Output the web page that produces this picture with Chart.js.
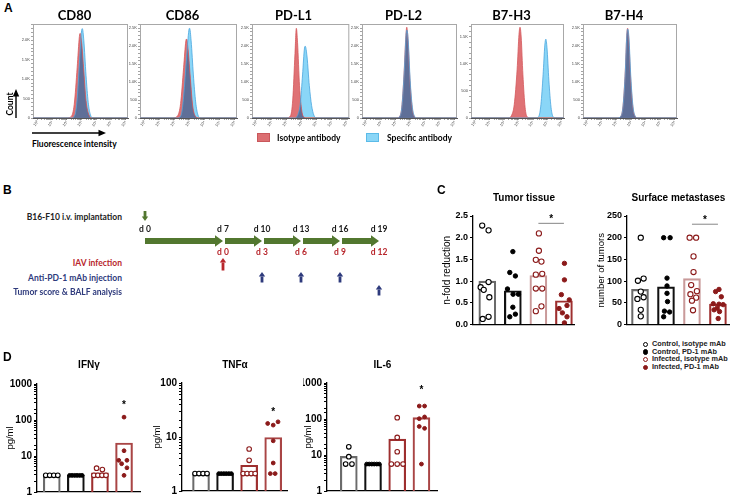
<!DOCTYPE html>
<html>
<head>
<meta charset="utf-8">
<script src="https://cdn.jsdelivr.net/npm/chart.js@4.4.0/dist/chart.umd.min.js"></script>
<style>
  html, body { margin: 0; padding: 0; background: #fff; overflow: hidden; }
  #fig { position: relative; width: 738px; height: 497px; background: #fff; }
  #fig canvas { position: absolute; }
  .lbl { position: absolute; white-space: nowrap; line-height: 1; }
  .sw { position: absolute; width: 11px; height: 7px; }
  .dot { position: absolute; width: 3.6px; height: 3.6px; border-radius: 50%; border: 1.1px solid; }
</style>
</head>
<body>
<div id="fig">
  <svg style="position:absolute;left:0;top:0" width="738" height="497">
    <line x1="16" y1="118" x2="16" y2="95" stroke="#000" stroke-width="1.4"/>
    <polygon points="16,89 12.8,96.5 19.2,96.5" fill="#000"/>
    <line x1="32" y1="133" x2="99" y2="133" stroke="#000" stroke-width="1.4"/>
    <polygon points="106,133 98.5,129.8 98.5,136.2" fill="#000"/>
  </svg>
  <div class="sw" style="left:257px;top:133px;background:#dc6f72;border:1px solid #c9575b"></div>
  <div class="sw" style="left:366px;top:133px;background:#8ad6f7;border:1px solid #5bbbe8"></div>
  <div class="dot" style="left:642.5px;top:341.5px;border-color:#000;background:#fff"></div>
  <div class="dot" style="left:642.5px;top:349.2px;border-color:#000;background:#000"></div>
  <div class="dot" style="left:642.5px;top:356.8px;border-color:#8b1a1a;background:#fff"></div>
  <div class="dot" style="left:642.5px;top:364.5px;border-color:#8b1a1a;background:#8b1a1a"></div>
</div>
<script>
// Panel A - flow cytometry histograms, x in log10 units, y = count
const flowMarkers = ['CD80', 'CD86', 'PD-L1', 'PD-L2', 'B7-H3', 'B7-H4'];
const flowYMax = [2420, 2620, 2620, 2620, 1740, 2620];
const flowDecades = [0, 1, 2, 3, 4, 5, 6];

const cd80Isotype = [[-0.3,0],[2.0,0],[2.3,40],[2.5,350],[2.7,1300],[2.85,2100],[2.9,2180],[3.0,1950],[3.15,1200],[3.3,450],[3.5,80],[3.7,0],[6.15,0]];
const cd80Specific = [[-0.3,0],[2.3,0],[2.55,80],[2.7,500],[2.85,1400],[3.0,2250],[3.05,2300],[3.15,2000],[3.3,1100],[3.45,400],[3.6,80],[3.8,0],[6.15,0]];
const cd86Isotype = [[-0.3,0],[1.9,0],[2.2,60],[2.4,400],[2.6,1400],[2.75,2150],[2.8,2200],[2.9,1900],[3.05,1100],[3.2,350],[3.4,40],[3.6,0],[6.15,0]];
const cd86Specific = [[-0.3,0],[2.2,0],[2.45,100],[2.6,600],[2.8,1700],[2.95,2450],[3.0,2500],[3.1,2150],[3.25,1200],[3.4,450],[3.55,90],[3.75,0],[6.15,0]];
const pdl1Isotype = [[-0.3,0],[2.0,0],[2.25,60],[2.4,500],[2.55,1800],[2.64,2500],[2.72,2100],[2.85,900],[3.0,200],[3.15,20],[3.3,0],[6.15,0]];
const pdl1Specific = [[-0.3,0],[2.5,0],[2.75,100],[2.9,400],[3.05,1200],[3.18,1950],[3.23,2000],[3.35,1700],[3.5,900],[3.65,350],[3.8,80],[4.0,0],[6.15,0]];
const pdl2Isotype = [[-0.3,0],[2.0,0],[2.25,40],[2.4,300],[2.55,1200],[2.68,2300],[2.74,2530],[2.82,2200],[2.95,1100],[3.1,300],[3.25,40],[3.4,0],[6.15,0]];
const pdl2Specific = [[-0.3,0],[2.05,0],[2.28,50],[2.42,350],[2.57,1300],[2.7,2350],[2.75,2450],[2.84,2150],[2.97,1050],[3.12,300],[3.28,40],[3.45,0],[6.15,0]];
const b7h3Isotype = [[-0.3,0],[2.3,0],[2.5,40],[2.7,250],[2.9,900],[3.03,1550],[3.1,1680],[3.18,1500],[3.3,800],[3.45,200],[3.6,20],[3.8,0],[6.15,0]];
const b7h3Specific = [[-0.3,0],[4.2,0],[4.4,30],[4.55,250],[4.7,800],[4.82,1350],[4.89,1460],[4.97,1300],[5.1,700],[5.25,200],[5.4,20],[5.6,0],[6.15,0]];
const b7h4Isotype = [[-0.3,0],[2.05,0],[2.3,50],[2.45,350],[2.6,1300],[2.7,2300],[2.76,2500],[2.84,2200],[2.97,1100],[3.12,300],[3.28,40],[3.45,0],[6.15,0]];
const b7h4Specific = [[-0.3,0],[2.05,0],[2.3,50],[2.45,330],[2.6,1250],[2.7,2250],[2.77,2480],[2.85,2250],[2.98,1150],[3.13,320],[3.3,40],[3.45,0],[6.15,0]];

// Panel B - timeline
const timelineDays = ['d 0', '', 'd 7', 'd 10', 'd 13', 'd 16', 'd 19'];
const infectionDays = ['', '', 'd 0', 'd 3', 'd 6', 'd 9', 'd 12'];
const stages = [['d 0', 'd 7'], ['d 7', 'd 10'], ['d 10', 'd 13'], ['d 13', 'd 16'], ['d 16', 'd 19']];
const implantDay = 'd 0';
const infectionDay = 'd 7';
const mabDays = ['d 10', 'd 13', 'd 16'];
const analysisDay = 'd 19';

// Panel C and D - groups
const groupNames = ['Control, isotype mAb', 'Control, PD-1 mAb', 'Infected, isotype mAb', 'Infected, PD-1 mAb'];

const tumorMeans = [1.0, 0.78, 1.13, 0.55];
const tumorValues = [
  [2.28, 2.17, 0.98, 0.86, 0.80, 0.63, 0.13, 0.18],
  [1.68, 1.20, 1.12, 0.82, 0.70, 0.70, 0.40, 0.18, 0.24],
  [2.10, 1.70, 1.49, 1.45, 1.15, 1.17, 0.83, 0.83, 0.42, 0.31],
  [1.41, 1.03, 0.69, 0.57, 0.37, 0.44, 0.27, 0.18, 0.04]
];
const tumorJitter = [
  [-0.2, 0.05, 0.05, -0.26, -0.14, 0.08, -0.18, 0.05],
  [0, -0.12, 0.1, -0.21, 0.01, 0.22, 0, -0.12, 0.1],
  [0.02, 0.02, -0.1, 0.12, -0.1, 0.15, -0.1, 0.15, 0.12, -0.1],
  [0.02, 0.02, -0.1, 0.21, -0.19, 0.12, -0.06, 0.12, 0.02]
];

const surfaceMeans = [81, 87, 106, 47];
const surfaceValues = [
  [200, 101, 106, 76, 59, 63, 34, 19],
  [200, 200, 107, 89, 72, 53, 31, 29, 18],
  [200, 200, 157, 121, 91, 77, 70, 62, 55, 33],
  [81, 76, 64, 48, 47, 46, 38, 34, 30, 14]
];
const surfaceJitter = [
  [0.03, -0.08, 0.14, 0.03, -0.1, 0.14, 0.03, 0.03],
  [-0.09, 0.16, 0.04, 0.04, 0.04, 0.06, -0.06, 0.14, -0.09],
  [-0.09, 0.16, 0.06, 0.06, -0.03, 0.19, -0.06, 0.16, 0, 0.04],
  [0.04, -0.09, 0.13, -0.18, 0.04, 0.2, -0.03, -0.15, 0.06, 0.01]
];

const ifnMeans = [2.9, 2.9, 3.4, 23];
const ifnValues = [
  [2.9, 2.9, 2.9, 2.9],
  [2.9, 2.9, 2.9, 2.9, 2.9, 2.9],
  [4.6, 4.2, 2.9, 2.9, 2.9, 2.9],
  [120, 14, 7.6, 7.6, 6.1, 4.7, 2.9]
];
const ifnJitter = [
  [-0.25, -0.085, 0.085, 0.25],
  [-0.26, -0.156, -0.052, 0.052, 0.156, 0.26],
  [-0.14, 0.1, -0.25, -0.085, 0.085, 0.25],
  [0, 0, -0.22, 0.12, -0.1, 0.12, 0]
];

const tnfMeans = [2.1, 2.1, 3.0, 9.8];
const tnfValues = [
  [2.1, 2.1, 2.1, 2.1],
  [2.1, 2.1, 2.1, 2.1, 2.1, 2.1],
  [6.0, 3.7, 2.1, 2.1, 2.1, 2.1],
  [17.8, 16.6, 19.1, 8.5, 3.3, 2.1, 2.1]
];
const tnfJitter = [
  [-0.25, -0.085, 0.085, 0.25],
  [-0.26, -0.156, -0.052, 0.052, 0.156, 0.26],
  [0, 0, -0.25, -0.085, 0.085, 0.25],
  [-0.23, 0, 0.2, 0, 0, -0.12, 0.08]
];

const il6Means = [9.2, 5.6, 27.5, 109];
const il6Values = [
  [16.9, 9.0, 5.6, 5.6],
  [5.6, 5.6, 5.6, 5.6, 5.6, 5.6],
  [109, 30.7, 12.3, 5.6, 5.6, 5.6],
  [229, 229, 102, 114, 62, 55, 5.6]
];
const il6Jitter = [
  [0, 0, -0.13, 0.13],
  [-0.26, -0.156, -0.052, 0.052, 0.156, 0.26],
  [0, 0, 0, -0.24, 0, 0.24],
  [-0.09, 0.13, -0.09, 0.13, -0.09, 0.13, 0]
];

// significance marks: [from group, to group, line level, star level]
const tumorSig = [3, 4, 2.33, 2.47];
const surfaceSig = [3, 4, 231, 246];
const ifnStar = [4, 4, null, 295];
const tnfStar = [4, 4, null, 31];
const il6Star = [4, 4, null, 745];

const groupColors = ['#000', '#000', '#8b1a1a', '#8b1a1a'];
const groupFilled = [false, true, false, true];

Chart.defaults.animation = false;
Chart.defaults.font.family = "'Liberation Sans', Arial, sans-serif";
Chart.defaults.color = '#000';
Chart.defaults.plugins.legend.display = false;
Chart.defaults.plugins.tooltip.enabled = false;

const fig = document.getElementById('fig');
const SANS = "'Liberation Sans', Arial, sans-serif";

function makeCanvas(left, top, width, height) {
  const c = document.createElement('canvas');
  c.width = width; c.height = height;
  c.style.left = left + 'px'; c.style.top = top + 'px';
  c.style.width = width + 'px'; c.style.height = height + 'px';
  fig.appendChild(c);
  return c.getContext('2d');
}

function addLabel(text, x, y, font, color, anchor, rotate) {
  const d = document.createElement('div');
  d.className = 'lbl';
  d.textContent = text;
  d.style.font = font;
  d.style.lineHeight = '1';
  d.style.color = color || '#000';
  d.style.left = x + 'px';
  d.style.top = y + 'px';
  const tx = anchor === 'end' ? '-100%' : anchor === 'middle' ? '-50%' : '0';
  d.style.transform = 'translate(' + tx + ', -50%)' + (rotate ? ' rotate(' + rotate + 'deg)' : '');
  fig.appendChild(d);
}

// frame + histogram fills: red, overlap painted inside red, blue behind
const RED_FILL = '#df7275', OVERLAP_FILL = '#5f6f98', BLUE_FILL = '#8ad6f7';
const flowFill = {
  id: 'flowFill',
  beforeDatasetsDraw(chart) {
    const a = chart.chartArea, c = chart.ctx;
    const y0 = chart.scales.y.getPixelForValue(0);
    const shape = i => {
      const meta = chart.getDatasetMeta(i), pts = meta.data;
      c.beginPath();
      meta.dataset.path(c);
      c.lineTo(pts[pts.length - 1].x, y0);
      c.lineTo(pts[0].x, y0);
      c.closePath();
    };
    c.save();
    c.strokeStyle = '#a8a8a8';
    c.lineWidth = 1;
    c.strokeRect(a.left + 0.5, a.top + 0.5, a.right - a.left - 1, a.bottom - a.top - 1);
    c.beginPath();
    c.rect(a.left, a.top, a.right - a.left, a.bottom - a.top);
    c.clip();
    shape(1);
    c.fillStyle = RED_FILL;
    c.fill();
    c.save();
    c.clip();
    shape(0);
    c.fillStyle = OVERLAP_FILL;
    c.fill();
    c.restore();
    shape(0);
    c.globalCompositeOperation = 'destination-over';
    c.fillStyle = BLUE_FILL;
    c.fill();
    c.restore();
  }
};

const sup = ['\u2070', '\u00b9', '\u00b2', '\u00b3', '\u2074', '\u2075', '\u2076'];
const flowXTicks = [];
flowDecades.forEach(n => {
  flowXTicks.push(n);
  if (n < 6) for (let k = 2; k <= 9; k++) flowXTicks.push(n + Math.log10(k));
});

function flowChart(i, iso, spec, box) {
  const d = box.x0 + box.x1 - 2 * box.tc;
  let yw = 12, rm = yw - d;
  if (rm < 1) { rm = 1; yw = d + 1; }
  const left = box.x0 - yw, top = 8;
  const ctx = makeCanvas(left, top, box.x1 + rm - left, 130 - top);
  const toXY = pts => pts.map(p => ({ x: p[0], y: p[1] }));
  const yMax = flowYMax[i];
  const yTicks = [];
  for (let v = 0; v <= yMax; v += 100) yTicks.push(v);
  new Chart(ctx, {
    type: 'line',
    data: {
      datasets: [
        { data: toXY(spec), borderColor: '#4aa6de', fill: false,
          borderWidth: 0.8, pointRadius: 0, cubicInterpolationMode: 'monotone' },
        { data: toXY(iso), borderColor: '#d4585c', fill: false,
          borderWidth: 0.8, pointRadius: 0, cubicInterpolationMode: 'monotone' }
      ]
    },
    options: {
      responsive: false,
      layout: { padding: { left: 0, right: rm, top: 0, bottom: 0 } },
      plugins: {
        title: { display: true, text: flowMarkers[i], color: '#000',
          font: { family: 'Lato', size: 13, weight: 'bold' }, padding: { top: 0, bottom: 0.4 } }
      },
      scales: {
        x: {
          type: 'linear', min: -0.3, max: 6.15, offset: false,
          afterBuildTicks: s => { s.ticks = flowXTicks.map(v => ({ value: v })); },
          ticks: { autoSkip: false, minRotation: 55, maxRotation: 55, padding: 0, color: '#444',
            font: { size: 4 }, callback: v => Number.isInteger(v) ? '10' + sup[v] : '' },
          grid: { drawOnChartArea: false, tickLength: 2, color: '#666', tickWidth: 0.6 },
          border: { color: '#555', width: 1 },
          afterFit: s => { s.height = 12; }
        },
        y: {
          min: 0, max: yMax,
          afterBuildTicks: s => { s.ticks = yTicks.map(v => ({ value: v })); },
          ticks: { autoSkip: false, padding: 1, color: '#444', font: { size: 4 },
            callback: v => v % 500 ? '' : v === 0 ? '0' : v < 1000 ? '500' : (v / 1000).toFixed(1) + 'K' },
          grid: { drawOnChartArea: false, tickLength: 2, color: '#666', tickWidth: 0.6 },
          border: { color: '#555', width: 1 },
          afterFit: s => { s.width = yw; }
        }
      }
    },
    plugins: [flowFill]
  });
}

flowChart(0, cd80Isotype, cd80Specific, { x0: 33, x1: 128, tc: 80.5 });
flowChart(1, cd86Isotype, cd86Specific, { x0: 140, x1: 237, tc: 188 });
flowChart(2, pdl1Isotype, pdl1Specific, { x0: 252, x1: 350, tc: 294 });
flowChart(3, pdl2Isotype, pdl2Specific, { x0: 362, x1: 457, tc: 408 });
flowChart(4, b7h3Isotype, b7h3Specific, { x0: 471, x1: 564, tc: 517 });
flowChart(5, b7h4Isotype, b7h4Specific, { x0: 583, x1: 677, tc: 626 });

// Panel B timeline
const GREEN = '#52772f', RED = '#b8262c', NAVY = '#2e3a7c';

function smallArrow(c, x, yTail, yTip, color) {
  const dir = yTip < yTail ? -1 : 1;
  const headL = 4.5;
  c.save();
  c.fillStyle = color;
  c.fillRect(x - 1.4, Math.min(yTail, yTip - dir * headL), 2.8, Math.abs(yTail - yTip) - headL + 0.5);
  c.beginPath();
  c.moveTo(x, yTip);
  c.lineTo(x - 3.2, yTip - dir * headL);
  c.lineTo(x + 3.2, yTip - dir * headL);
  c.closePath();
  c.fill();
  c.restore();
}

const timelineArrows = {
  id: 'timelineArrows',
  afterDraw(chart) {
    const c = chart.ctx, a = chart.chartArea, x = chart.scales.x;
    const px = d => x.getPixelForValue(timelineDays.indexOf(d));
    const mid = (a.top + a.bottom) / 2;
    c.save();
    c.fillStyle = GREEN;
    stages.forEach(([s, e], i) => {
      const x0 = px(s) + (i ? 2 : 0), x1 = px(e), hl = 8;
      c.beginPath();
      c.moveTo(x0, mid - 3);
      c.lineTo(x1 - hl, mid - 3);
      c.lineTo(x1 - hl, mid - 5.8);
      c.lineTo(x1, mid);
      c.lineTo(x1 - hl, mid + 5.8);
      c.lineTo(x1 - hl, mid + 3);
      c.lineTo(x0, mid + 3);
      c.closePath();
      c.fill();
    });
    c.restore();
    smallArrow(c, px(implantDay), a.top - 24, a.top - 14, GREEN);
    smallArrow(c, px(infectionDay), a.bottom + 23, a.bottom + 11, RED);
    mabDays.forEach(d => smallArrow(c, px(d), a.bottom + 35, a.bottom + 25, NAVY));
    smallArrow(c, px(analysisDay), a.bottom + 48, a.bottom + 38, NAVY);
  }
};

new Chart(makeCanvas(125, 205, 285, 100), {
  type: 'line',
  data: { datasets: [] },
  options: {
    responsive: false,
    layout: { padding: { left: 20, right: 31, top: 0, bottom: 0 } },
    scales: {
      x: { type: 'category', labels: timelineDays, position: 'top', offset: false,
        ticks: { autoSkip: false, maxRotation: 0, padding: 1, color: '#1a1a1a',
          font: { family: 'Lato', size: 8.5, weight: 'bold' } },
        grid: { display: false, drawTicks: false }, border: { display: false },
        afterFit: s => { s.height = 30; } },
      x2: { type: 'category', axis: 'x', labels: infectionDays, position: 'bottom', offset: false,
        ticks: { autoSkip: false, maxRotation: 0, padding: 0, color: RED,
          font: { family: 'Lato', size: 8.5, weight: 'bold' } },
        grid: { display: false, drawTicks: false }, border: { display: false },
        afterFit: s => { s.height = 58; } },
      y: { display: false, min: 0, max: 1 }
    }
  },
  plugins: [timelineArrows]
});

// Panels C and D - bars with individual points
const sigMarks = {
  id: 'sigMarks',
  afterDatasetsDraw(chart, args, opts) {
    const m = opts.mark;
    if (!m) return;
    const c = chart.ctx, x = chart.scales.x, y = chart.scales.y;
    const x0 = x.getPixelForValue(m[0]), x1 = x.getPixelForValue(m[1]);
    c.save();
    if (m[2] !== null) {
      c.strokeStyle = '#9a9a9a';
      c.lineWidth = 1.2;
      c.beginPath();
      c.moveTo(x0, y.getPixelForValue(m[2]));
      c.lineTo(x1, y.getPixelForValue(m[2]));
      c.stroke();
    }
    c.fillStyle = '#000';
    c.font = 'bold 10px ' + SANS;
    c.textAlign = 'center';
    c.textBaseline = 'alphabetic';
    c.fillText('*', (x0 + x1) / 2, y.getPixelForValue(m[3]) + 5);
    c.restore();
  }
};

function groupChart(o) {
  const ctx = makeCanvas(o.left, o.top, o.right - o.left, o.bottom - o.top);
  const datasets = o.values.map((vals, g) => ({
    type: 'scatter',
    data: vals.map((v, j) => ({ x: g + 1 + o.jitter[g][j], y: v })),
    pointRadius: groupFilled[g] ? o.radius - 0.4 : o.radius,
    pointBorderWidth: groupFilled[g] ? 1 : 1.1,
    pointBorderColor: groupColors[g],
    pointBackgroundColor: groupFilled[g] ? groupColors[g] : '#fff'
  }));
  datasets.push({
    type: 'bar',
    data: o.means.map((m, g) => ({ x: g + 1, y: m })),
    borderColor: o.barColors,
    backgroundColor: 'rgba(255,255,255,0)',
    borderWidth: 1.5,
    barThickness: 17
  });
  const yScale = Object.assign({
    title: { display: true, text: o.yTitle, font: { size: o.yTitleSize }, padding: { top: 0, bottom: 0 } },
    grid: { drawOnChartArea: false, tickLength: 3, color: '#000' },
    border: { color: '#000', width: 1.3 },
    afterFit: s => { s.width = o.yw; }
  }, o.y);
  yScale.ticks = Object.assign({ autoSkip: false, padding: 2, font: { size: o.tickSize, weight: 'bold' }, color: '#000' }, o.y.ticks);
  new Chart(ctx, {
    type: 'bar',
    data: { datasets },
    options: {
      responsive: false,
      layout: { padding: 0 },
      plugins: {
        title: { display: true, text: o.title, fullSize: false, color: '#000',
          font: { size: 10, weight: 'bold' }, padding: { top: 4, bottom: o.plotTop - o.top - 16 } },
        sigMarks: { mark: o.mark }
      },
      scales: {
        x: { type: 'linear', min: o.xMin, max: o.xMax, offset: false,
          ticks: { display: false }, grid: { display: false, drawTicks: false },
          border: { color: '#000', width: 1.3 },
          afterFit: s => { s.height = 7; } },
        y: yScale
      }
    },
    plugins: [sigMarks]
  });
}

const barColorsC = ['#6b6b6b', '#111', '#c99a9a', '#9e2f2f'];
const barColorsD = ['#6b6b6b', '#111', '#9e2f2f', '#a94545'];
const decadeLabel = v => Math.abs(Math.log10(v) - Math.round(Math.log10(v))) < 1e-9 ? String(Math.round(v)) : '';

groupChart({ left: 441, top: 188, right: 580, bottom: 332, plotTop: 216, yw: 32, radius: 2.6,
  title: 'Tumor tissue', yTitle: 'n-fold reduction', yTitleSize: 10, tickSize: 9,
  xMin: 0.44, xMax: 4.43, means: tumorMeans, values: tumorValues, jitter: tumorJitter, barColors: barColorsC,
  y: { type: 'linear', min: 0, max: 2.5, ticks: { stepSize: 0.5, callback: v => v.toFixed(1) } },
  mark: tumorSig });

groupChart({ left: 596, top: 188, right: 735, bottom: 332, plotTop: 216, yw: 31, radius: 2.6,
  title: 'Surface metastases', yTitle: 'number of tumors', yTitleSize: 9.5, tickSize: 9,
  xMin: 0.5, xMax: 4.46, means: surfaceMeans, values: surfaceValues, jitter: surfaceJitter, barColors: barColorsC,
  y: { type: 'linear', min: 0, max: 250, ticks: { stepSize: 50 } },
  mark: surfaceSig });

groupChart({ left: 5, top: 355, right: 146, bottom: 500, plotTop: 384, yw: 32, radius: 2.3,
  title: 'IFN\u03b3', yTitle: 'pg/ml', yTitleSize: 9.5, tickSize: 10,
  xMin: 0.387, xMax: 4.70, means: ifnMeans, values: ifnValues, jitter: ifnJitter, barColors: barColorsD,
  y: { type: 'logarithmic', min: 1, max: 1000, ticks: { callback: decadeLabel } },
  mark: ifnStar });

groupChart({ left: 152, top: 355, right: 293, bottom: 499, plotTop: 383, yw: 30, radius: 2.3,
  title: 'TNF\u03b1', yTitle: 'pg/ml', yTitleSize: 9.5, tickSize: 10,
  xMin: 0.21, xMax: 4.61, means: tnfMeans, values: tnfValues, jitter: tnfJitter, barColors: barColorsD,
  y: { type: 'logarithmic', min: 1, max: 100, ticks: { callback: decadeLabel } },
  mark: tnfStar });

groupChart({ left: 303, top: 355, right: 443, bottom: 499, plotTop: 383, yw: 24, radius: 2.3,
  title: 'IL-6', yTitle: 'pg/ml', yTitleSize: 9.5, tickSize: 10,
  xMin: 0.10, xMax: 4.68, means: il6Means, values: il6Values, jitter: il6Jitter, barColors: barColorsD,
  y: { type: 'logarithmic', min: 1, max: 1000, ticks: { callback: decadeLabel } },
  mark: il6Star });

// panel letters and annotation text
const PANEL = 'bold 12px ' + SANS;
addLabel('A', 4, 8, PANEL);
addLabel('B', 3, 190, PANEL);
addLabel('C', 437, 190, PANEL);
addLabel('D', 3, 357, PANEL);

const CAL = "bold 8.5px Lato, 'Open Sans', sans-serif";
addLabel('Count', 10, 104, CAL, '#000', 'middle', -90);
addLabel('Fluorescence intensity', 32, 144, CAL, '#000');
addLabel('Isotype antibody', 277, 137.5, CAL, '#000');
addLabel('Specific antibody', 387, 137.5, CAL, '#000');

addLabel('B16-F10 i.v. implantation', 122, 217, CAL, '#222', 'end');
addLabel('IAV infection', 122, 263, CAL, RED, 'end');
addLabel('Anti-PD-1 mAb injection', 122, 277.5, CAL, NAVY, 'end');
addLabel('Tumor score & BALF analysis', 122, 292, CAL, NAVY, 'end');

const LEG = 'bold 7.3px ' + SANS;
[344, 351.7, 359.3, 367].forEach((y, i) => addLabel(groupNames[i], 652, y, LEG, '#222'));
</script>
</body>
</html>
